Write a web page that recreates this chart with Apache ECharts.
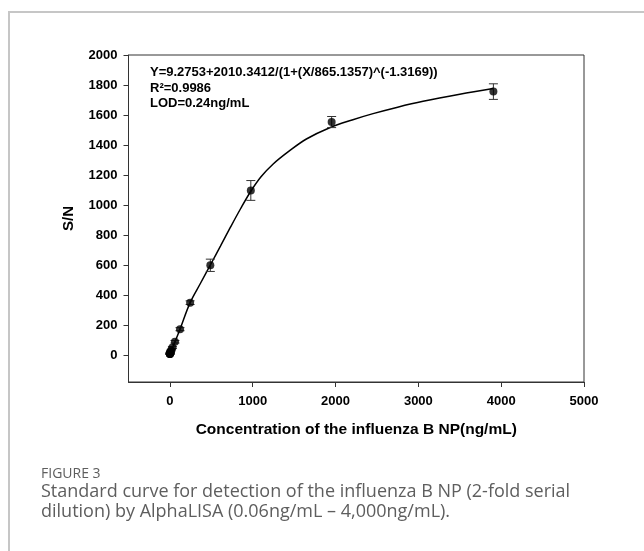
<!DOCTYPE html>
<html>
<head>
<meta charset="utf-8">
<script src="https://cdn.jsdelivr.net/npm/echarts@6/dist/echarts.min.js"></script>
<style>
html,body{margin:0;padding:0;background:#fff;}
#chart{width:644px;height:551px;}
</style>
</head>
<body>
<div id="chart"></div>
<script>
// Measured points (concentration ng/mL, S/N mean, S/N error)
const conc   = [3906, 1953, 977, 488, 244, 122, 61, 30.5, 15.3, 7.6, 3.8, 1.9, 0.95, 0.48, 0.24, 0.12, 0.06];
const snMean = [1756, 1553, 1097, 598, 349, 172, 88, 50, 32, 22, 16, 12, 10, 9, 8, 7, 6];
const snErr  = [52, 37, 66, 41, 12, 10, 8, 6, 5, 4, 3, 3, 3, 2, 2, 2, 2];

// Fitted curve
const fitX = [0.06, 15, 30, 61, 122, 244, 366, 488, 610, 731, 853, 975, 1100, 1244, 1446, 1648, 1929, 2200, 2453, 2750, 3057, 3500, 3903];
const fitY = [6, 28, 48, 88, 172, 349, 475, 600, 726, 852, 975, 1090, 1188, 1272, 1362, 1440, 1515, 1567, 1609, 1652, 1691, 1738, 1776];

// Tick labels
const xTicks = [0, 1000, 2000, 3000, 4000, 5000];
const yTicks = [0, 200, 400, 600, 800, 1000, 1200, 1400, 1600, 1800, 2000];

const annotation = [
  'Y=9.2753+2010.3412/(1+(X/865.1357)^(-1.3169))',
  'R\u00B2=0.9986',
  'LOD=0.24ng/mL'
];
const captionTitle = 'FIGURE 3';
const captionLines = [
  'Standard curve for detection of the influenza B NP (2-fold serial',
  'dilution) by AlphaLISA (0.06ng/mL \u2013 4,000ng/mL).'
];

const pointData = conc.map((x, i) => [x, snMean[i]]);
const errData = conc.map((x, i) => [x, snMean[i] - snErr[i], snMean[i] + snErr[i]]);
const fitData = fitX.map((x, i) => [x, fitY[i]]);

const FONT = '"Liberation Sans", Arial, sans-serif';
const chart = echarts.init(document.getElementById('chart'), null, {renderer: 'canvas'});

const graphics = [
  {type: 'rect', shape: {x: 9, y: 12, width: 700, height: 600},
   style: {fill: 'none', stroke: '#c6c6c6', lineWidth: 2}, silent: true, z: 0}
];
annotation.forEach((t, i) => {
  graphics.push({type: 'text', x: 150, y: 72.5 + i * 15.5,
    style: {text: t, fill: '#000', font: 'bold 13px ' + FONT, verticalAlign: 'middle', align: 'left'}});
});
graphics.push({type: 'text', x: 41, y: 474,
  style: {text: captionTitle, fill: '#5e5e5e', font: '14px "Open Sans", sans-serif', verticalAlign: 'middle'}});
captionLines.forEach((t, i) => {
  graphics.push({type: 'text', x: 41, y: 492 + i * 20,
    style: {text: t, fill: '#5e5e5e', font: '18px "Open Sans", sans-serif', verticalAlign: 'middle'}});
});

const plain = v => String(v);

chart.setOption({
  animation: false,
  backgroundColor: '#fff',
  grid: {left: 128.5, top: 55, width: 455.5, height: 327, show: true,
         borderColor: '#333', borderWidth: 1, backgroundColor: 'transparent'},
  xAxis: {
    type: 'value', min: -500, max: 5000,
    name: 'Concentration of the influenza B NP(ng/mL)',
    nameLocation: 'middle', nameGap: 40,
    nameTextStyle: {fontFamily: FONT, fontWeight: 'bold', fontSize: 15.5, color: '#000'},
    axisLine: {onZero: false, lineStyle: {color: '#333', width: 1}},
    axisTick: {show: true, inside: false, length: 5, customValues: xTicks, lineStyle: {color: '#333'}},
    axisLabel: {customValues: xTicks, formatter: plain, margin: 13, fontFamily: FONT, fontWeight: 'bold', fontSize: 13, color: '#000'},
    splitLine: {show: false}
  },
  yAxis: {
    type: 'value', min: -180, max: 2000,
    name: 'S/N', nameLocation: 'middle', nameGap: 52, nameRotate: 90,
    nameTextStyle: {fontFamily: FONT, fontWeight: 'bold', fontSize: 15, color: '#000'},
    axisLine: {onZero: false, show: true, lineStyle: {color: '#333', width: 1}},
    axisTick: {show: true, inside: false, length: 5, customValues: yTicks, lineStyle: {color: '#333'}},
    axisLabel: {customValues: yTicks, formatter: plain, margin: 11, fontFamily: FONT, fontWeight: 'bold', fontSize: 13, color: '#000'},
    splitLine: {show: false}
  },
  graphic: graphics,
  series: [
    {
      type: 'line', data: fitData, showSymbol: false, smooth: 0.35,
      lineStyle: {color: '#000', width: 1.5}, z: 2, silent: true
    },
    {
      type: 'custom', data: errData, z: 3, silent: true,
      renderItem: function (params, api) {
        const x = api.value(0);
        const lo = api.coord([x, api.value(1)]);
        const hi = api.coord([x, api.value(2)]);
        const hw = 4.5;
        const st = {stroke: '#333', lineWidth: 1};
        return {type: 'group', children: [
          {type: 'line', shape: {x1: lo[0], y1: lo[1], x2: hi[0], y2: hi[1]}, style: st},
          {type: 'line', shape: {x1: lo[0] - hw, y1: lo[1], x2: lo[0] + hw, y2: lo[1]}, style: st},
          {type: 'line', shape: {x1: hi[0] - hw, y1: hi[1], x2: hi[0] + hw, y2: hi[1]}, style: st}
        ]};
      }
    },
    {
      type: 'scatter', data: pointData, symbol: 'circle', symbolSize: 8,
      itemStyle: {color: '#000'}, z: 4, silent: true
    }
  ]
});
</script>
</body>
</html>
